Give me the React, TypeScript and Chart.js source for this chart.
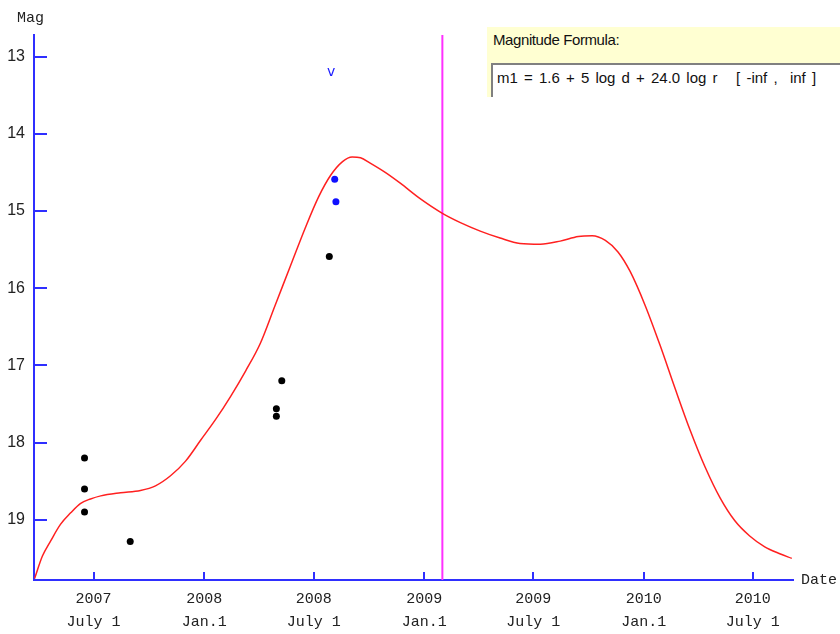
import React, { useEffect, useRef } from "react";
import { Chart, registerables } from "chart.js";

Chart.register(...registerables);

// ---- data (x = days since 2007-07-01, y = magnitude) ----
const curveDays = [
  -98, -85, -71, -55, -38, -22, -5, 12, 45, 78, 103, 128, 153, 178, 203, 228, 253, 277, 302,
  327, 352, 374, 394, 414, 430, 444, 460, 485, 510, 543, 580, 610, 643, 676, 709, 743, 776,
  806, 829, 851, 872, 892, 917, 942, 967, 992, 1017, 1042, 1066, 1091, 1116, 1141, 1161,
];
const curveMags = [
  19.76, 19.47, 19.27, 19.06, 18.91, 18.79, 18.73, 18.69, 18.65, 18.62, 18.56, 18.43, 18.24,
  17.97, 17.7, 17.4, 17.07, 16.72, 16.22, 15.72, 15.22, 14.82, 14.54, 14.36, 14.3, 14.31,
  14.38, 14.5, 14.64, 14.84, 15.03, 15.15, 15.26, 15.35, 15.42, 15.43, 15.39, 15.33, 15.32,
  15.38, 15.53, 15.78, 16.22, 16.74, 17.3, 17.84, 18.32, 18.72, 19.01, 19.21, 19.35, 19.44,
  19.5,
];
const blackDays = [-15, -15, -15, 61, 304, 304, 313, 392];
const blackMags = [18.2, 18.6, 18.9, 19.28, 17.56, 17.66, 17.2, 15.59];
const blueDays = [401, 403];
const blueMags = [14.59, 14.88];
const markerDay = [580];
const vLabelDay = [395];
const vLabelMag = [13.2];
const xTickDays = [0, 184, 366, 550, 731, 915, 1096];
const xTickLabels = [
  ["2007", "July 1"],
  ["2008", "Jan.1"],
  ["2008", "July 1"],
  ["2009", "Jan.1"],
  ["2009", "July 1"],
  ["2010", "Jan.1"],
  ["2010", "July 1"],
];
const yTicks = [13, 14, 15, 16, 17, 18, 19];
const yMin = 12.72;
const yMax = 19.78;
const xMin = -99;
const xMax = 1163;
const formulaTitle = "Magnitude Formula:";
const formulaText = "m1 = 1.6 + 5 log d + 24.0 log r   [ -inf ,  inf ]";

const AXIS = "#2f2fff";

const decor = {
  id: "decor",
  afterDraw(chart: any) {
    const { ctx, chartArea, scales } = chart;
    const x = scales.x;
    const y = scales.y;
    ctx.save();
    ctx.strokeStyle = AXIS;
    ctx.lineWidth = 2;
    yTicks.forEach((v) => {
      const py = Math.round(y.getPixelForValue(v));
      ctx.beginPath();
      ctx.moveTo(chartArea.left, py);
      ctx.lineTo(chartArea.left + 13, py);
      ctx.stroke();
    });
    xTickDays.forEach((d) => {
      const px = Math.round(x.getPixelForValue(d));
      ctx.beginPath();
      ctx.moveTo(px, chartArea.bottom);
      ctx.lineTo(px, chartArea.bottom - 8);
      ctx.stroke();
    });
    ctx.fillStyle = "#222";
    ctx.font = '15px "Liberation Mono"';
    ctx.textBaseline = "middle";
    ctx.textAlign = "left";
    ctx.fillText("Mag", 17, 18);
    ctx.fillText("Date", 801, chartArea.bottom);
    ctx.fillStyle = "#1a1aff";
    ctx.font = '14px "DejaVu Sans"';
    ctx.textAlign = "center";
    ctx.fillText("v", x.getPixelForValue(vLabelDay[0]), y.getPixelForValue(vLabelMag[0]));
    ctx.restore();
  },
};

export default function App() {
  const ref = useRef<HTMLCanvasElement>(null);
  useEffect(() => {
    if (!ref.current) return;
    const chart = new Chart(ref.current, {
      type: "scatter",
      data: {
        datasets: [
          {
            data: blackDays.map((d, i) => ({ x: d, y: blackMags[i] })),
            backgroundColor: "#000",
            borderColor: "#000",
            pointRadius: 3.5,
            borderWidth: 0,
          },
          {
            data: blueDays.map((d, i) => ({ x: d, y: blueMags[i] })),
            backgroundColor: "#1010ff",
            borderColor: "#1010ff",
            pointRadius: 3.5,
            borderWidth: 0,
          },
          {
            data: curveDays.map((d, i) => ({ x: d, y: curveMags[i] })),
            showLine: true,
            borderColor: "#ff2020",
            borderWidth: 1.5,
            pointRadius: 0,
            cubicInterpolationMode: "monotone",
          } as any,
          {
            data: [
              { x: markerDay[0], y: yMin },
              { x: markerDay[0], y: yMax },
            ],
            showLine: true,
            borderColor: "#ff30ff",
            borderWidth: 2,
            pointRadius: 0,
          },
        ],
      },
      options: {
        responsive: false,
        animation: false,
        layout: { padding: { top: 35, right: 47, left: 0, bottom: 0 } },
        plugins: { legend: { display: false }, tooltip: { enabled: false } },
        scales: {
          x: {
            type: "linear",
            min: xMin,
            max: xMax,
            grid: { drawOnChartArea: false, drawTicks: false },
            border: { color: AXIS, width: 2 },
            afterBuildTicks: (s: any) => {
              s.ticks = xTickDays.map((v) => ({ value: v }));
            },
            afterFit: (s: any) => {
              s.height = 54;
            },
            ticks: {
              autoSkip: false,
              maxRotation: 0,
              padding: 8,
              color: "#222",
              font: { family: "Liberation Mono", size: 15, lineHeight: 1.5 },
              callback: (_v: any, i: number) => xTickLabels[i],
            },
          },
          y: {
            type: "linear",
            reverse: true,
            min: yMin,
            max: yMax,
            grid: { drawOnChartArea: false, drawTicks: false },
            border: { color: AXIS, width: 2 },
            afterBuildTicks: (s: any) => {
              s.ticks = yTicks.map((v) => ({ value: v }));
            },
            afterFit: (s: any) => {
              s.width = 34;
            },
            ticks: {
              padding: 9,
              color: "#222",
              font: { family: "Liberation Sans", size: 16 },
              callback: (v: any) => String(v),
            },
          },
        },
      },
      plugins: [decor],
    } as any);
    return () => chart.destroy();
  }, []);

  return (
    <div style={{ position: "fixed", left: 0, top: 0, width: 840, height: 634, background: "#fff", overflow: "hidden" }}>
      <canvas ref={ref} width={840} height={634} style={{ position: "absolute", left: 0, top: 0 }} />
      <div
        style={{
          position: "absolute",
          left: 487,
          top: 27,
          width: 353,
          height: 70,
          background: "#ffffd2",
        }}
      />
      <div
        style={{
          position: "absolute",
          left: 493,
          top: 31,
          fontFamily: '"Liberation Sans", sans-serif',
          fontSize: 15,
          letterSpacing: "-0.4px",
          lineHeight: "18px",
          color: "#111",
          whiteSpace: "pre",
        }}
      >
        {formulaTitle}
      </div>
      <div
        style={{
          position: "absolute",
          left: 491,
          top: 63,
          width: 349,
          height: 34,
          background: "#fff",
          borderTop: "2px solid #808080",
          borderLeft: "2px solid #808080",
          boxSizing: "border-box",
        }}
      />
      <div
        style={{
          position: "absolute",
          left: 497,
          top: 69,
          fontFamily: '"Liberation Sans", sans-serif',
          fontSize: 15,
          wordSpacing: "2px",
          lineHeight: "18px",
          color: "#111",
          whiteSpace: "pre",
        }}
      >
        {formulaText}
      </div>
    </div>
  );
}
